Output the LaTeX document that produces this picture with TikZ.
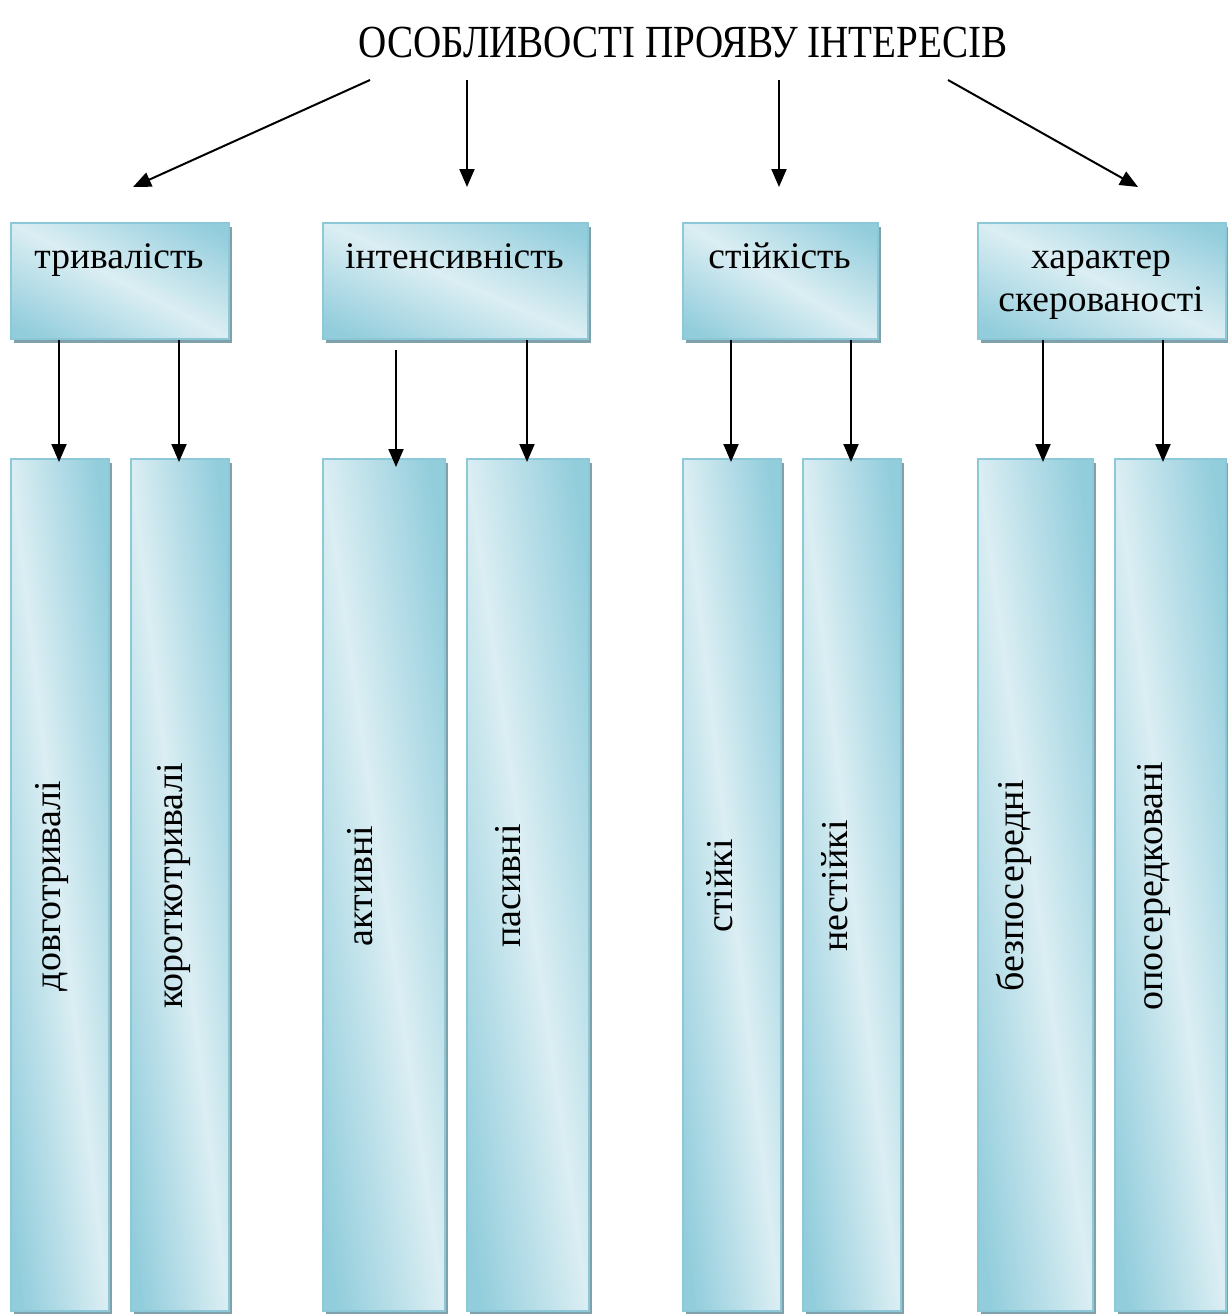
\documentclass[tikz,border=0pt]{standalone}
\usepackage{fontspec}
\setmainfont{Liberation Serif}
\newfontfamily\titlefont[FakeStretch=0.85]{Liberation Serif}
\usetikzlibrary{arrows.meta}
\definecolor{dk}{RGB}{146,205,220}
\definecolor{lt}{RGB}{219,238,243}
\definecolor{edgec}{RGB}{140,200,216}
\definecolor{shd}{RGB}{128,160,170}
\pgfdeclarehorizontalshading{wordgrad}{100bp}{color(0bp)=(dk); color(28bp)=(dk); color(50bp)=(lt); color(72bp)=(dk); color(100bp)=(dk)}
% x y w h (in picture units): shadow + diagonal gradient
\newcommand\gradfill[4]{%
  \pgfmathsetmacro\gbxA{#3/200}%
  \pgfmathsetmacro\gbxB{#4/200}%
  \pgfmathsetmacro\gbxD{-#4/200}%
  \fill[shd] (#1+4,#2+5) rectangle ++(#3,#4);
  \begin{scope}
    \clip (#1,#2) rectangle ++(#3,#4);
    \begin{scope}[x=1pt,y=1pt,transform canvas={cm={\gbxA,\gbxB,\gbxA,\gbxD,(#1pt,-#2pt)}}]
      \shade[shading=wordgrad] (-100,0) rectangle (100,200);
    \end{scope}
  \end{scope}
}
\begin{document}
\begin{tikzpicture}[x=1pt,y=-1pt,
  box/.style={rectangle, draw=edgec, line width=1.5pt, inner sep=0pt, anchor=north west},
  topbox/.style={box, minimum height=116pt},
  colbox/.style={box, minimum height=852pt},
  toptext/.style={anchor=base, inner sep=0pt, align=center, font=\fontsize{37.5}{43}\selectfont},
  coltext/.style={rotate=90, inner sep=0pt, text height=0.7em, text depth=0.25em, font=\fontsize{38}{43}\selectfont},
  arr/.style={line width=2pt, -{Triangle[length=18pt,width=15pt]}}
]
\useasboundingbox (0,0) rectangle (1227,1314);

% title
\node[anchor=base, inner sep=0pt, font=\titlefont\fontsize{46}{52}\selectfont] (title) at (683,58) {ОСОБЛИВОСТІ ПРОЯВУ ІНТЕРЕСІВ};

% top boxes
\gradfill{10}{222}{218}{116}
\gradfill{322}{222}{265}{116}
\gradfill{682}{222}{195}{116}
\gradfill{977}{222}{248}{116}
\node[topbox, minimum width=218pt] (tb1) at (10,222) {};
\node[topbox, minimum width=265pt] (tb2) at (322,222) {};
\node[topbox, minimum width=195pt] (tb3) at (682,222) {};
\node[topbox, minimum width=248pt] (tb4) at (977,222) {};
\node[toptext] (tb1t) at (119,268) {тривалість};
\node[toptext] (tb2t) at (454.5,268) {інтенсивність};
\node[toptext] (tb3t) at (779.5,268) {стійкість};
\node[toptext] (tb4t) at (1101,311) {характер\\скерованості};

% column boxes
\gradfill{10}{458}{98}{852}
\gradfill{130}{458}{98}{852}
\gradfill{322}{458}{122}{852}
\gradfill{466}{458}{122}{852}
\gradfill{682}{458}{98}{852}
\gradfill{802}{458}{98}{852}
\gradfill{977}{458}{115}{852}
\gradfill{1114}{458}{111}{852}
\node[colbox, minimum width=98pt]  (b1) at (10,458) {};
\node[colbox, minimum width=98pt]  (b2) at (130,458) {};
\node[colbox, minimum width=122pt] (b3) at (322,458) {};
\node[colbox, minimum width=122pt] (b4) at (466,458) {};
\node[colbox, minimum width=98pt]  (b5) at (682,458) {};
\node[colbox, minimum width=98pt]  (b6) at (802,458) {};
\node[colbox, minimum width=115pt] (b7) at (977,458) {};
\node[colbox, minimum width=111pt] (b8) at (1114,458) {};

\node[coltext] (bt1) at (58,886) {довготривалі};
\node[coltext] (bt2) at (180,886) {короткотривалі};
\node[coltext] (bt3) at (370,886) {активні};
\node[coltext] (bt4) at (518,886) {пасивні};
\node[coltext] (bt5) at (730,886) {стійкі};
\node[coltext] (bt6) at (845,886) {нестійкі};
\node[coltext] (bt7) at (1021,886) {безпосередні};
\node[coltext] (bt8) at (1160,886) {опосередковані};

% first-level arrows
\coordinate (s1) at (370,80);  \coordinate (e1) at (133,187);
\coordinate (s2) at (467,80);  \coordinate (e2) at (467,187);
\coordinate (s3) at (779,80);  \coordinate (e3) at (779,187);
\coordinate (s4) at (948,80);  \coordinate (e4) at (1138,187);
\draw[arr] (s1) -- (e1);
\draw[arr] (s2) -- (e2);
\draw[arr] (s3) -- (e3);
\draw[arr] (s4) -- (e4);

% second-level arrows
\coordinate (c1) at (59,0);
\coordinate (c2) at (179,0);
\coordinate (c3) at (396,0);
\coordinate (c4) at (527,0);
\coordinate (c5) at (731,0);
\coordinate (c6) at (851,0);
\coordinate (c7) at (1043,0);
\coordinate (c8) at (1163,0);
\draw[arr] (tb1.south -| c1) -- ([yshift=-4pt]b1.north -| c1);
\draw[arr] (tb1.south -| c2) -- ([yshift=-4pt]b2.north -| c2);
\draw[arr] ([yshift=-10pt]tb2.south -| c3) -- ([yshift=-9pt]b3.north -| c3);
\draw[arr] (tb2.south -| c4) -- ([yshift=-4pt]b4.north -| c4);
\draw[arr] (tb3.south -| c5) -- ([yshift=-4pt]b5.north -| c5);
\draw[arr] (tb3.south -| c6) -- ([yshift=-4pt]b6.north -| c6);
\draw[arr] (tb4.south -| c7) -- ([yshift=-4pt]b7.north -| c7);
\draw[arr] (tb4.south -| c8) -- ([yshift=-4pt]b8.north -| c8);
\end{tikzpicture}
\end{document}
